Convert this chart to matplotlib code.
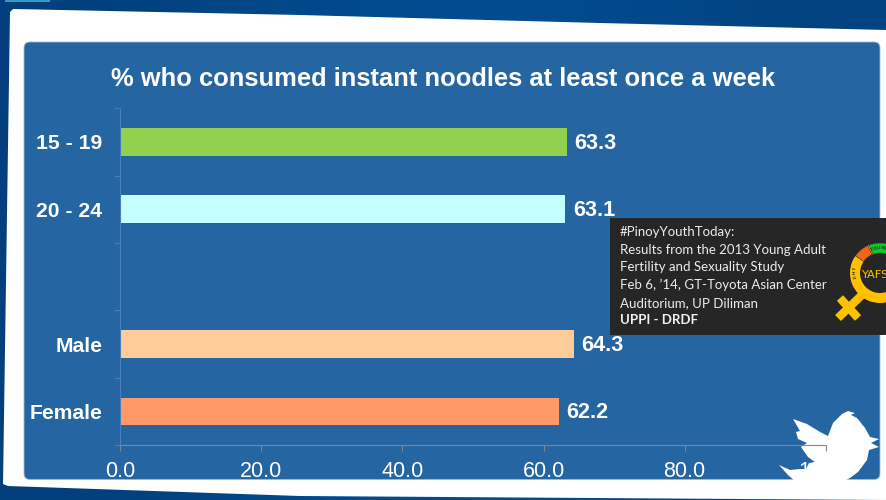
import numpy as np
import matplotlib
matplotlib.use("Agg")
import matplotlib.pyplot as plt
from matplotlib.patches import FancyBboxPatch, Polygon, Rectangle, Wedge

categories = ["15 - 19", "20 - 24", "", "Male", "Female"]
values = [63.3, 63.1, None, 64.3, 62.2]
bar_colors = ["#92d050", "#c6ffff", "#ffffff", "#ffcc99", "#ff9966"]
x_ticks = [0, 20, 40, 60, 80, 100]

title = "% who consumed instant noodles at least once a week"
note_lines = ["#PinoyYouthToday:",
              "Results from the 2013 Young Adult",
              "Fertility and Sexuality Study",
              "Feb 6, \u201914, GT-Toyota Asian Center".replace("\u2014", "\u2019"),
              "Auditorium, UP Diliman"]
note_bold = "UPPI - DRDF"

W, H = 887, 500
PANEL = "#2565a2"
plt.rcParams["font.family"] = ["Liberation Sans", "DejaVu Sans"]

fig = plt.figure(figsize=(W / 100, H / 100), dpi=100)


def pixel_axes(zorder):
    # overlay in image pixels, y going down
    a = fig.add_axes([0, 0, 1, 1], zorder=zorder)
    a.set_xlim(0, W)
    a.set_ylim(H, 0)
    a.axis("off")
    a.patch.set_alpha(0)
    return a


def ring_text(a, s, cx, cy, r, start, step, size, color):
    # one letter at a time round the logo ring, angles in degrees on screen
    for i, ch in enumerate(s):
        ang = np.radians(start + i * step)
        x = cx + r * np.cos(ang)
        y = cy + r * np.sin(ang)
        a.text(x, y, ch, fontsize=size, color=color, fontweight="bold", ha="center", va="center",
               rotation=-(start + i * step) - 90, rotation_mode="anchor", zorder=4)


# slide background
bg = pixel_axes(0)
grad = np.array([[0.0, 0.35, 0.6, 0.45, 0.15]])
cmap = matplotlib.colors.LinearSegmentedColormap.from_list("bg", ["#033f7c", "#00569f"])
bg.imshow(grad, extent=(0, W, H, 0), aspect="auto", cmap=cmap, vmin=0, vmax=1, interpolation="bilinear")
bg.add_patch(Rectangle((5, 0), 45, 2, color="#2f9fc4", lw=0))
bg.add_patch(Polygon([(13, 9), (300, 15), (600, 23), (887, 30), (887, 500),
                      (300, 496), (8, 486), (3, 484), (10, 12)],
                     closed=True, fc="white", ec="none"))
bg.add_patch(FancyBboxPatch((24, 42), 856, 437.5, boxstyle="round,pad=0,rounding_size=6",
                            fc=PANEL, ec="#9fbad6", lw=0.6))

# bird sits under the chart, the axis line runs over it
bird = [(793, 419), (807, 424), (820, 432), (828, 436), (833, 423), (842, 414), (848, 411),
        (855, 413), (851, 415), (857, 418), (865, 428), (870, 437), (879, 439), (871, 443),
        (879, 447), (869, 450), (867, 460), (858, 472), (850, 478), (842, 482), (796, 482),
        (788, 475), (779, 465), (790, 470), (800, 469), (806, 469), (809, 463), (815, 462),
        (808, 457), (803, 450), (801, 447), (807, 443), (798, 439), (796, 432), (800, 431)]
bg.add_patch(Polygon(bird, closed=True, fc="white", ec="none", zorder=5))

# chart
left, right, top, bottom = 120.4, 825.6, 108.2, 445.2
ax = fig.add_axes([left / W, 1 - bottom / H, (right - left) / W, (bottom - top) / H], zorder=1)
ax.patch.set_alpha(0)
pos = np.arange(len(categories))
for p, v, c in zip(pos, values, bar_colors):
    if v is None:
        continue
    ax.barh(p, v, height=0.41, color=c, linewidth=0)
    ax.text(v + 1.05, p + 0.02, f"{v:.1f}", color="white", fontweight="bold", fontsize=15.6,
            va="center", ha="left")

ax.set_xlim(0, 100)
ax.set_ylim(len(categories) - 0.5, -0.5)
ax.set_xticks(x_ticks)
ax.set_xticklabels([f"{t:.1f}" for t in x_ticks], color="white", fontsize=15.5)
ax.set_yticks(np.arange(len(categories) + 1) - 0.5)
ax.set_yticklabels([])
ax.set_yticks(pos, minor=True)
ax.set_yticklabels(categories, minor=True, color="white", fontweight="bold", fontsize=15.2)
ax.tick_params(axis="x", length=4.5, width=0.8, color="#868686", pad=7)
ax.tick_params(axis="y", which="major", length=4.5, width=0.8, color="#4a7ebb")
ax.tick_params(axis="y", which="minor", length=0, pad=13)
for s in ["top", "right"]:
    ax.spines[s].set_visible(False)
ax.spines["left"].set_color("#4a7ebb")
ax.spines["bottom"].set_color("#868686")
ax.spines["left"].set_linewidth(0.8)
ax.spines["bottom"].set_linewidth(0.8)

# overlays: title, note box, logo
top_ax = pixel_axes(2)
top_ax.text(443, 79, title, color="white", fontweight="bold", fontsize=18.4, ha="center", va="center")

top_ax.add_patch(Rectangle((610, 218), 277, 117, fc="#262626", ec="none"))
for i, line in enumerate(note_lines):
    top_ax.text(620, 232 + i * 17.7, line, color="#ececec", fontsize=9.55, family="Lato", va="center")
top_ax.text(620, 320.5, note_bold, color="#f2f2f2", fontsize=9.55, family="Lato",
            fontweight="bold", va="center")

# logo
cx, cy = 880, 273
top_ax.add_patch(Wedge((cx, cy), 30, 0, 360, width=10, fc="#ffc000", ec="none", zorder=3))
top_ax.add_patch(Wedge((cx, cy), 30, 249, 330, width=10, fc="#11c42e", ec="#262626", lw=0.4, zorder=3))
top_ax.add_patch(Wedge((cx, cy), 30, 215, 246, width=10, fc="#f0651a", ec="#262626", lw=0.4, zorder=3))
top_ax.text(861, 275, "YAFS", color="#ffc000", fontsize=8.2, family="Liberation Sans Narrow",
            va="center", ha="left", zorder=4)
ring_text(top_ax, "THE", cx, cy, 25, 190, -9, 3.2, "#262626")
ring_text(top_ax, "YOUNG", cx, cy, 25, 252, 7.5, 3.2, "#262626")
top_ax.plot([838, 864], [318, 293], color="#ffc000", lw=6, solid_capstyle="butt", zorder=3)
top_ax.plot([840, 858], [298, 318], color="#ffc000", lw=6, solid_capstyle="butt", zorder=3)

fig.savefig("out.png", dpi=100)
